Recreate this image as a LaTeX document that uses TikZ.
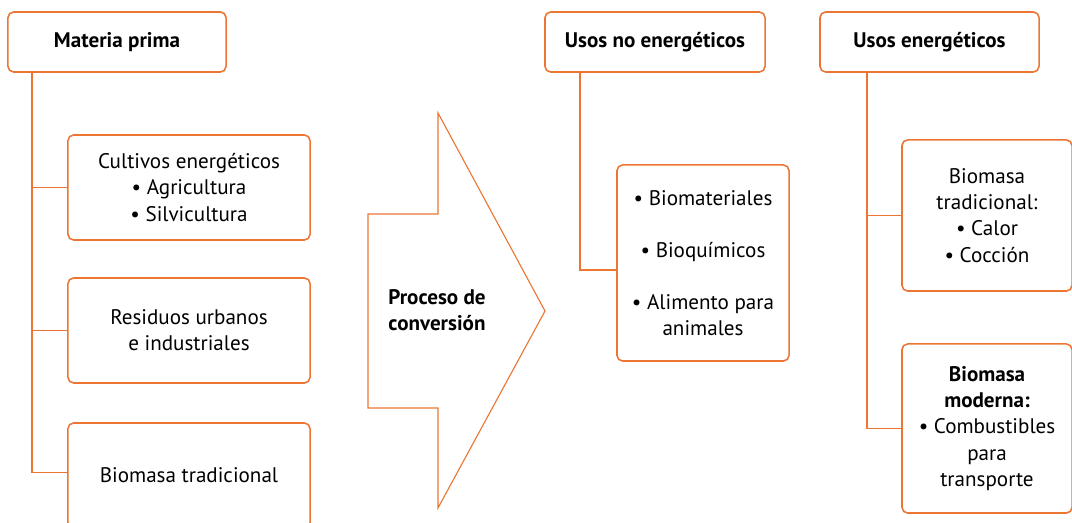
\documentclass[tikz,border=0pt]{standalone}
\usepackage{fontspec}
\setmainfont{PT Sans}
\usepackage{tikz}
\usetikzlibrary{positioning}
\definecolor{naranja}{RGB}{237, 117, 52}
\newcommand{\boxfont}{\fontsize{15}{18.6}\selectfont}
\tikzstyle{headbox} = [rectangle, rounded corners=4pt, minimum width=5.45cm, minimum height=1.5cm,
                       align=center, draw=naranja, line width=1.1pt, font=\boxfont\bfseries]
\tikzstyle{itembox} = [rectangle, rounded corners=4pt, minimum width=6.05cm, minimum height=2.625cm,
                       align=center, draw=naranja, line width=1.1pt, font=\boxfont]
\tikzstyle{link} = [draw=naranja, line width=1.1pt]

\begin{document}
\begin{tikzpicture}[x=0.025cm, y=-0.025cm]
    \useasboundingbox (0,0) rectangle (1072,523);
    \clip (0,0) rectangle (1072,523);
    % Materia prima
    \node[headbox] (materia) at (117,42) {Materia prima};
    \node[itembox] (cultivos) at (189,187.5) {Cultivos energéticos\\\textbullet{} Agricultura\\\textbullet{} Silvicultura};
    \node[itembox] (residuos) at (189,330.5) {Residuos urbanos\\e industriales};
    \node[itembox] (tradicional) at (189,475.5) {Biomasa tradicional};

    % Proceso de conversion
    \draw[naranja, line width=0.8pt] (438,113) -- (545,311) -- (438,508) -- (438,408)
        -- (368,408) -- (368,214) -- (438,214) -- cycle;
    \node[font=\boxfont\bfseries, align=center] (proceso) at (437,310) {Proceso de\\conversión};

    % Usos no energeticos
    \node[headbox, minimum width=5.5cm] (noenerg) at (655,42) {Usos no energéticos};
    \node[itembox, minimum width=4.3cm, minimum height=4.9cm] (productos) at (703,263)
        {\textbullet{} Biomateriales\\[0.65cm]\textbullet{} Bioquímicos\\[0.65cm]\textbullet{} Alimento para\\animales};

    % Usos energeticos
    \node[headbox, minimum width=5.475cm] (energ) at (929.5,42) {Usos energéticos};
    \node[itembox, minimum width=4.25cm, minimum height=3.775cm] (calor) at (987,215.5)
        {Biomasa\\tradicional:\\\textbullet{} Calor\\\textbullet{} Cocción};
    \node[itembox, minimum width=4.25cm, minimum height=4.225cm] (moderna) at (987,428.5)
        {\textbf{Biomasa}\\\textbf{moderna:}\\\textbullet{} Combustibles\\para\\transporte};

    % Connectors
    \draw[link] ([xshift=0.625cm]materia.south west) |- (cultivos.west);
    \draw[link] ([xshift=0.625cm]materia.south west) |- (residuos.west);
    \draw[link] ([xshift=0.625cm]materia.south west) |- ([yshift=0.08cm]tradicional.west);
    \draw[link] ([xshift=0.9cm]noenerg.south west) |- ([yshift=-0.175cm]productos.west);
    \draw[link] ([xshift=1.2cm]energ.south west) |- (calor.west);
    \draw[link] ([xshift=1.2cm]energ.south west) |- (moderna.west);
\end{tikzpicture}
\end{document}
